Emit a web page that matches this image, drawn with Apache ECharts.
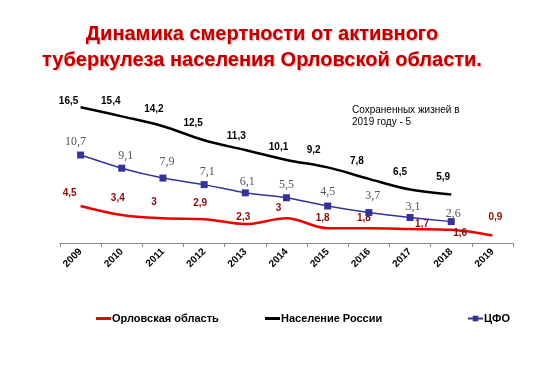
<!DOCTYPE html>
<html>
<head>
<meta charset="utf-8">
<script src="https://cdn.jsdelivr.net/npm/echarts@6/dist/echarts.min.js"></script>
<style>html,body{margin:0;padding:0;background:#fff}#c{width:539px;height:377px}</style>
</head>
<body>
<div id="c"></div>
<script>
const years = ['2009','2010','2011','2012','2013','2014','2015','2016','2017','2018','2019'];
const orel = [4.5, 3.4, 3, 2.9, 2.3, 3, 1.8, 1.8, 1.7, 1.6, 0.9];
const russia = [16.5, 15.4, 14.2, 12.5, 11.3, 10.1, 9.2, 7.8, 6.5, 5.9];
const cfo = [10.7, 9.1, 7.9, 7.1, 6.1, 5.5, 4.5, 3.7, 3.1, 2.6];
const seriesNames = ['Орловская область', 'Население России', 'ЦФО'];
const note = 'Сохраненных жизней в\n2019 году - 5';
const titleText = 'Динамика смертности от активного\nтуберкулеза населения Орловской области.';

// label placement (style only)
const orelOff = [[-11,-13],[-4,-17],[-9,-16],[-4,-16],[-2,-7],[-8,-10],[-5,-10],[-5,-10],[12,-5],[9,3],[3,-18]];
const russiaOff = [[-12,-6],[-11,-15],[-9,-17],[-11,-17],[-9,-14],[-8,-13],[-14,-17],[-12,-18],[-10,-17],[-8,-17]];
const cfoOff = [[-5,-13],[4,-12],[4,-16],[3,-13],[2,-11],[0,-13],[0,-14],[4,-17],[3,-11],[2,-8]];

function items(vals, offs) {
  return vals.map((v, i) => ({ value: v, label: { offset: offs[i] } }));
}
const fmt = p => String(p.value).replace('.', ',');
const legendText = { fontFamily: 'Liberation Sans, Arial', fontSize: 11, fontWeight: 'bold', color: '#000', padding: [0,0,0,-4] };

const chart = echarts.init(document.getElementById('c'));
chart.setOption({
  animation: false,
  backgroundColor: '#fff',
  graphic: [{
    type: 'text',
    x: 262,
    y: 21,
    style: {
      text: titleText,
      align: 'center',
      verticalAlign: 'top',
      font: 'bold 20px "Liberation Sans", Arial, sans-serif',
      lineHeight: 26,
      fill: '#c00000',
      textShadowColor: 'rgba(120,0,0,0.35)',
      textShadowBlur: 2,
      textShadowOffsetX: 1,
      textShadowOffsetY: 1
    }
  }, {
    type: 'text',
    left: 352,
    top: 104,
    style: {
      text: note,
      font: '10px "Liberation Sans", Arial, sans-serif',
      fill: '#000',
      lineHeight: 12
    }
  }],
  legend: [
    { data: [{ name: seriesNames[0], icon: 'rect' }], left: 91, top: 308, itemWidth: 15, itemHeight: 3, textStyle: legendText },
    { data: [{ name: seriesNames[1], icon: 'rect' }], left: 260, top: 308, itemWidth: 15, itemHeight: 3, textStyle: legendText },
    { data: [seriesNames[2]], left: 462, top: 308, itemWidth: 15, itemHeight: 7, textStyle: legendText }
  ],
  grid: { left: 60, right: 26, top: 95, height: 148, containLabel: false },
  xAxis: {
    type: 'category',
    data: years,
    boundaryGap: true,
    axisLine: { lineStyle: { color: '#8c8c8c', width: 1 } },
    axisTick: { show: true, length: 4, lineStyle: { color: '#8c8c8c' } },
    axisLabel: {
      rotate: 45,
      margin: 7,
      fontFamily: 'Liberation Sans, Arial',
      fontSize: 10,
      fontWeight: 'bold',
      color: '#000',
      interval: 0
    }
  },
  yAxis: {
    type: 'value',
    min: 0,
    max: 18,
    show: false,
    splitLine: { show: false }
  },
  series: [
    {
      name: seriesNames[0],
      type: 'line',
      data: items(orel, orelOff),
      smooth: 0.35,
      symbol: 'circle',
      symbolSize: 0.1,
      itemStyle: { color: '#ee0000' },
      lineStyle: { color: '#ee0000', width: 2.5 },
      label: {
        show: true, position: 'inside', formatter: fmt,
        fontFamily: 'Liberation Sans, Arial', fontSize: 10, fontWeight: 'bold', color: '#8b0a0a'
      },
      z: 3
    },
    {
      name: seriesNames[1],
      type: 'line',
      data: items(russia, russiaOff),
      smooth: 0.35,
      symbol: 'circle',
      symbolSize: 0.1,
      itemStyle: { color: '#000' },
      lineStyle: { color: '#000', width: 2.5 },
      label: {
        show: true, position: 'inside', formatter: fmt,
        fontFamily: 'Liberation Sans, Arial', fontSize: 10, fontWeight: 'bold', color: '#000'
      },
      z: 2
    },
    {
      name: seriesNames[2],
      type: 'line',
      data: items(cfo, cfoOff),
      smooth: 0.2,
      symbol: 'rect',
      symbolSize: 7,
      itemStyle: { color: '#333399' },
      lineStyle: { color: '#333399', width: 1.5 },
      label: {
        show: true, position: 'inside', formatter: fmt,
        fontFamily: 'Liberation Serif, Times New Roman, serif', fontSize: 12, color: '#555'
      },
      z: 4
    }
  ]
});
</script>
</body>
</html>
